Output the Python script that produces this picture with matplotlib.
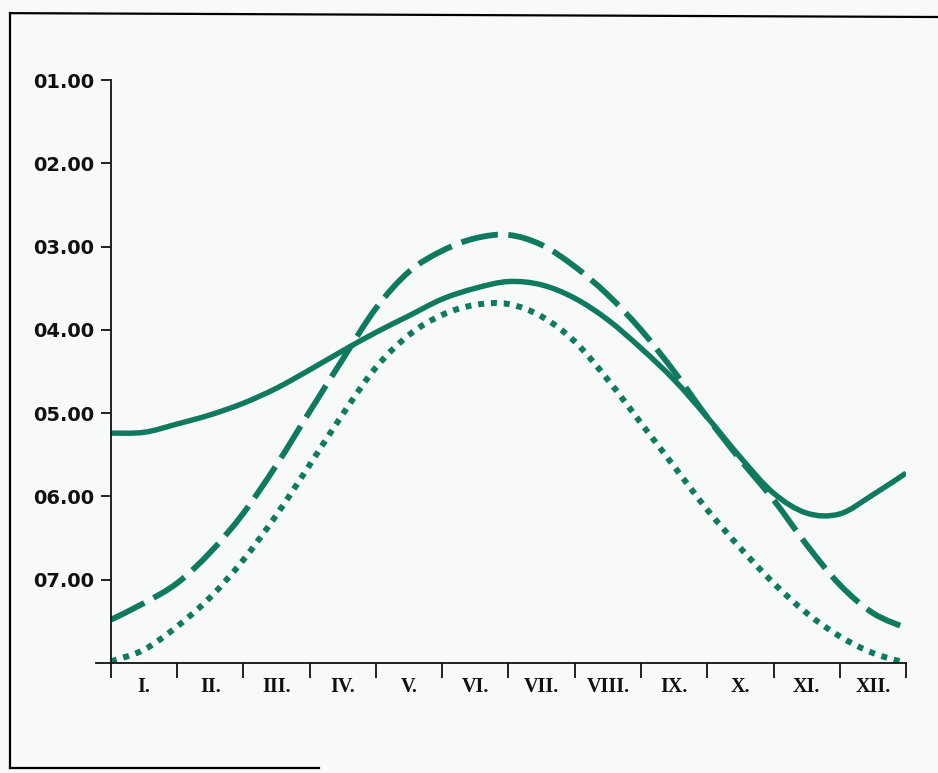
import numpy as np
import matplotlib.pyplot as plt
from matplotlib.lines import Line2D
from matplotlib.path import Path
from matplotlib.patches import PathPatch

# months I..XII, values read every half month (0 = start of I., 12 = end of XII.)
months = ["I.", "II.", "III.", "IV.", "V.", "VI.", "VII.", "VIII.", "IX.", "X.", "XI.", "XII."]
x_pos = [0, 0.5, 1, 1.5, 2, 2.5, 3, 3.5, 4, 4.5, 5, 5.5, 6,
         6.5, 7, 7.5, 8, 8.5, 9, 9.5, 10, 10.5, 11, 11.5, 12]

solid = [5.24, 5.23, 5.13, 5.02, 4.88, 4.70, 4.48, 4.25, 4.03, 3.83, 3.63, 3.50, 3.42,
         3.46, 3.62, 3.88, 4.22, 4.60, 5.05, 5.53, 5.96, 6.20, 6.21, 5.98, 5.72]
dashed = [7.48, 7.28, 7.04, 6.67, 6.20, 5.62, 4.98, 4.35, 3.74, 3.30, 3.05, 2.90, 2.86,
          2.98, 3.24, 3.58, 4.00, 4.50, 5.05, 5.56, 6.04, 6.58, 7.06, 7.40, 7.58]
dotted = [7.98, 7.84, 7.56, 7.21, 6.76, 6.22, 5.62, 5.01, 4.45, 4.06, 3.82, 3.70, 3.69,
          3.84, 4.14, 4.60, 5.12, 5.64, 6.16, 6.62, 7.04, 7.40, 7.68, 7.88, 8.00]

y_ticks = [1, 2, 3, 4, 5, 6, 7]
y_labels = ["01.00", "02.00", "03.00", "04.00", "05.00", "06.00", "07.00"]

green = '#0f7a5f'


def smooth_path(xs, ys):
    # bezier path through the read points (catmull-rom control points)
    p = np.column_stack([xs, ys]).astype(float)
    verts = [p[0]]
    codes = [Path.MOVETO]
    for i in range(len(p) - 1):
        p0 = p[i - 1] if i > 0 else p[i]
        p3 = p[i + 2] if i + 2 < len(p) else p[i + 1]
        c1 = p[i] + (p[i + 1] - p0) / 6
        c2 = p[i + 1] - (p3 - p[i]) / 6
        verts += [c1, c2, p[i + 1]]
        codes += [Path.CURVE4] * 3
    return Path(verts, codes)


fig = plt.figure(figsize=(9.38, 7.73), dpi=100)
fig.patch.set_facecolor('#f8faf9')
ax = fig.add_axes([0.1183, 0.1423, 0.8476, 0.7542])
ax.set_facecolor('none')

ax.add_patch(PathPatch(smooth_path(x_pos, solid), fill=False, ec=green, lw=3.9,
                       capstyle='butt'))
ax.add_patch(PathPatch(smooth_path(x_pos, dashed), fill=False, ec=green, lw=4.2,
                       linestyle=(0, (6.4, 1.8)), capstyle='butt'))
ax.add_patch(PathPatch(smooth_path(x_pos, dotted), fill=False, ec=green, lw=4.3,
                       linestyle=(0, (1, 1.15)), capstyle='butt'))

ax.set_xlim(0, 12)
ax.set_ylim(8, 1)

for s in ['top', 'right']:
    ax.spines[s].set_visible(False)
for s in ['left', 'bottom']:
    ax.spines[s].set_linewidth(1.3)
    ax.spines[s].set_color('#111111')

ax.set_yticks(y_ticks)
ax.set_yticklabels(y_labels, fontsize=14, fontweight='heavy', family='DejaVu Sans')
ax.tick_params(axis='y', direction='out', length=7, width=1.3, pad=5, colors='#111111')

ax.set_xticks(np.arange(0.5, 12, 1))
ax.set_xticklabels(months, fontsize=14.5, fontweight='bold', family='Liberation Serif')
ax.set_xticks(np.arange(0, 13, 1), minor=True)
ax.tick_params(axis='x', which='major', length=0, pad=10, colors='#111111')
ax.tick_params(axis='x', which='minor', direction='out', length=11, width=1.3, color='#111111')

# x axis line runs a little past the y axis
ax.add_line(Line2D([-0.22, 0], [8, 8], color='#111111', lw=1.3, clip_on=False))

# scanned page frame
fig.add_artist(Line2D([0.0107, 0.0107], [0.006, 0.983], color='black', lw=1.6))
fig.add_artist(Line2D([0.0107, 1.0], [0.983, 0.978], color='black', lw=1.6))
fig.add_artist(Line2D([0.0107, 0.34], [0.006, 0.006], color='black', lw=1.6))

fig.savefig('out.png', dpi=100, facecolor=fig.get_facecolor())
